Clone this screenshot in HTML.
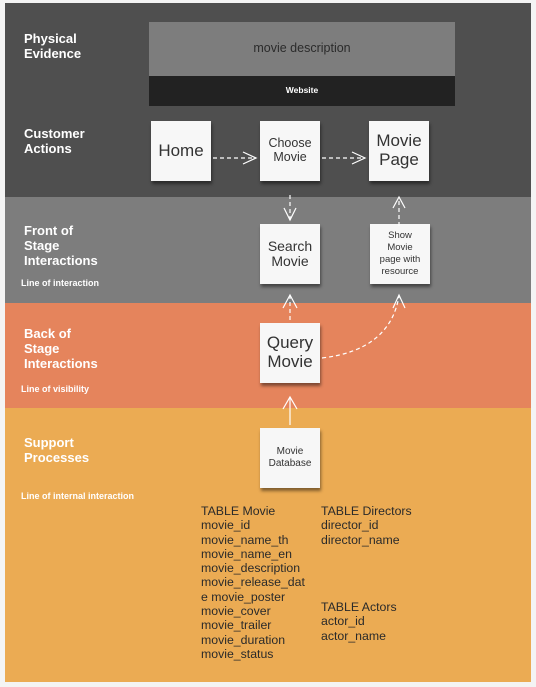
<!DOCTYPE html>
<html><head><meta charset="utf-8"><style>
*{margin:0;padding:0;box-sizing:border-box}
body{width:536px;height:687px;background:#f4f4f4;position:relative;overflow:hidden;font-family:"Liberation Sans",Arial,sans-serif}
.band{position:absolute;left:5px;width:526px}
.lbl{position:absolute;left:24px;color:#fff;font-weight:bold;font-size:13px;line-height:15px}
.sm{position:absolute;left:21px;color:#fff;font-weight:bold;font-size:9px}
.note{position:absolute;width:60px;height:60px;background:#f7f7f7;box-shadow:1px 3px 3px rgba(0,0,0,.45);display:flex;align-items:center;justify-content:center;text-align:center;color:#333;line-height:1.1}
.t{position:absolute;font-size:12.3px;line-height:14.3px;color:#2a2a2a}
</style></head><body>
<div class="band" style="top:3px;height:194px;background:#4f4f4f"></div>
<div class="band" style="top:197px;height:106px;background:#7d7d7d"></div>
<div class="band" style="top:303px;height:105px;background:#e5845c"></div>
<div class="band" style="top:408px;height:274px;background:#ebab53"></div>

<div style="position:absolute;left:149px;top:22px;width:306px;height:54px;background:#7d7d7d;color:#2b2b2b;font-size:12.5px;text-align:center;line-height:52px">movie description</div>
<div style="position:absolute;left:149px;top:76px;width:306px;height:30px;background:#222;color:#fff;font-size:8.5px;font-weight:bold;text-align:center;line-height:28px">Website</div>

<div class="lbl" style="top:31px">Physical<br>Evidence</div>
<div class="lbl" style="top:126px">Customer<br>Actions</div>
<div class="lbl" style="top:223px">Front of<br>Stage<br>Interactions</div>
<div class="sm" style="top:278px">Line of interaction</div>
<div class="lbl" style="top:326px">Back of<br>Stage<br>Interactions</div>
<div class="sm" style="top:384px">Line of visibility</div>
<div class="lbl" style="top:435px">Support<br>Processes</div>
<div class="sm" style="top:491px">Line of internal interaction</div>

<div class="note" style="left:151px;top:121px;font-size:17px">Home</div>
<div class="note" style="left:260px;top:121px;font-size:12.5px">Choose<br>Movie</div>
<div class="note" style="left:369px;top:121px;font-size:17px">Movie<br>Page</div>
<div class="note" style="left:260px;top:224px;font-size:14px">Search<br>Movie</div>
<div class="note" style="left:370px;top:224px;font-size:9.5px;line-height:12px">Show<br>Movie<br>page with<br>resource</div>
<div class="note" style="left:260px;top:323px;font-size:17px">Query<br>Movie</div>
<div class="note" style="left:260px;top:428px;font-size:10px;line-height:12px">Movie<br>Database</div>

<svg width="536" height="687" style="position:absolute;left:0;top:0" fill="none" stroke="#fff" stroke-width="1.2">
<g stroke-dasharray="4,3">
<line x1="213" y1="158" x2="256" y2="158"/>
<line x1="322" y1="158" x2="365" y2="158"/>
<line x1="290" y1="195" x2="290" y2="220"/>
<line x1="399" y1="226" x2="399" y2="198"/>
<line x1="290" y1="320" x2="290" y2="296"/>
<path d="M322 358 Q390 350 399 296"/>
</g>
<line x1="290" y1="425" x2="290" y2="397"/>
<polyline points="243,152 256,158 243,164"/>
<polyline points="352,152 365,158 352,164"/>
<polyline points="284,208 290,220 296,208"/>
<polyline points="393,208 399,197 405,208"/>
<polyline points="283,308 290,295 297,308"/>
<polyline points="393,308 399,295 405,308"/>
<polyline points="283,409 290,397 297,409"/>
</svg>

<div class="t" style="left:201px;top:504px">TABLE Movie<br>movie_id<br>movie_name_th<br>movie_name_en<br>movie_description<br>movie_release_dat<br>e movie_poster<br>movie_cover<br>movie_trailer<br>movie_duration<br>movie_status</div>
<div class="t" style="left:321px;top:504px">TABLE Directors<br>director_id<br>director_name</div>
<div class="t" style="left:321px;top:600px">TABLE Actors<br>actor_id<br>actor_name</div>
</body></html>
